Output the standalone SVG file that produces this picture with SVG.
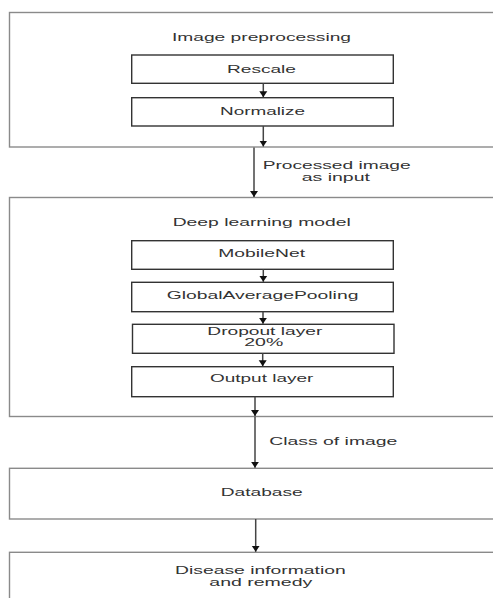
<svg xmlns="http://www.w3.org/2000/svg" width="493" height="598" viewBox="0 0 493 598">
<defs>
<style>
.outer{fill:#fff;stroke:#8a8a8a;stroke-width:1.4}
.box{fill:#fff;stroke:#333;stroke-width:1.4}
.t{font-family:"Liberation Sans",Arial,sans-serif;font-size:11.5px;fill:#333}
.s{font-size:11px}
.c{stroke:#444;stroke-width:1.5;fill:none;marker-end:url(#ah)}
</style>
<marker id="ah" markerUnits="userSpaceOnUse" markerWidth="9" markerHeight="9" refX="6" refY="4.5" orient="auto">
<path d="M0,0.5 L6,4.5 L0,8.5 z" fill="#111"/>
</marker>
</defs>
<rect width="493" height="598" fill="#fff"/>

<g id="preprocessing">
<rect class="outer" x="9.5" y="12.5" width="500" height="134.5"/>
<text class="t" x="172" y="40.5" textLength="179" lengthAdjust="spacingAndGlyphs">Image preprocessing</text>
</g>
<g id="rescale">
<rect class="box" x="131.7" y="55" width="261.6" height="28.3"/>
<text class="t" x="227" y="72.5" textLength="69" lengthAdjust="spacingAndGlyphs">Rescale</text>
</g>
<g id="normalize">
<rect class="box" x="131.7" y="97.7" width="261.6" height="28.3"/>
<text class="t" x="220" y="114.5" textLength="85" lengthAdjust="spacingAndGlyphs">Normalize</text>
</g>

<g id="model">
<rect class="outer" x="9.5" y="197.5" width="500" height="219"/>
<text class="t" x="172.7" y="225.7" textLength="178" lengthAdjust="spacingAndGlyphs">Deep learning model</text>
</g>
<g id="mobilenet">
<rect class="box" x="131.7" y="240.7" width="261.6" height="28.6"/>
<text class="t" x="218.3" y="256.7" textLength="86.7" lengthAdjust="spacingAndGlyphs">MobileNet</text>
</g>
<g id="gap">
<rect class="box" x="131.7" y="282.3" width="261.6" height="29.4"/>
<text class="t" x="166.7" y="299.3" textLength="191.7" lengthAdjust="spacingAndGlyphs">GlobalAveragePooling</text>
</g>
<g id="dropout">
<rect class="box" x="132.5" y="324.3" width="261.5" height="29"/>
<text class="t" x="207.3" y="335" textLength="115" lengthAdjust="spacingAndGlyphs">Dropout layer</text>
<text class="t" x="244.3" y="346" textLength="39" lengthAdjust="spacingAndGlyphs">20%</text>
</g>
<g id="output">
<rect class="box" x="131.7" y="366.7" width="261.6" height="30"/>
<text class="t" x="210" y="382.3" textLength="103.3" lengthAdjust="spacingAndGlyphs">Output layer</text>
</g>

<g id="database">
<rect class="outer" x="9.5" y="468.3" width="500" height="50.7"/>
<text class="t" x="220.7" y="495.7" textLength="82" lengthAdjust="spacingAndGlyphs">Database</text>
</g>
<g id="disease">
<rect class="outer" x="9.5" y="552.3" width="500" height="60"/>
<text class="t" x="175" y="574" textLength="170.7" lengthAdjust="spacingAndGlyphs">Disease information</text>
<text class="t" x="209.3" y="585.5" textLength="103" lengthAdjust="spacingAndGlyphs">and remedy</text>
</g>

<g id="connectors">
<line class="c" x1="263.3" y1="83.3" x2="263.3" y2="97.2"/>
<line class="c" x1="263.3" y1="126" x2="263.3" y2="146.5"/>
<line class="c" x1="254" y1="147.5" x2="254" y2="197"/>
<text class="t s" x="262.7" y="169" textLength="148" lengthAdjust="spacingAndGlyphs">Processed image</text>
<text class="t s" x="301.7" y="180.5" textLength="68.3" lengthAdjust="spacingAndGlyphs">as input</text>
<line class="c" x1="263.3" y1="269.3" x2="263.3" y2="281.8"/>
<line class="c" x1="263" y1="311.7" x2="263" y2="323.8"/>
<line class="c" x1="262.7" y1="353.3" x2="262.7" y2="366.2"/>
<line class="c" x1="255" y1="396.7" x2="255" y2="416"/>
<line class="c" x1="255" y1="416.5" x2="255" y2="467.8"/>
<text class="t" x="269.3" y="445" textLength="128" lengthAdjust="spacingAndGlyphs">Class of image</text>
<line class="c" x1="255.7" y1="519" x2="255.7" y2="551.8"/>
</g>
</svg>
